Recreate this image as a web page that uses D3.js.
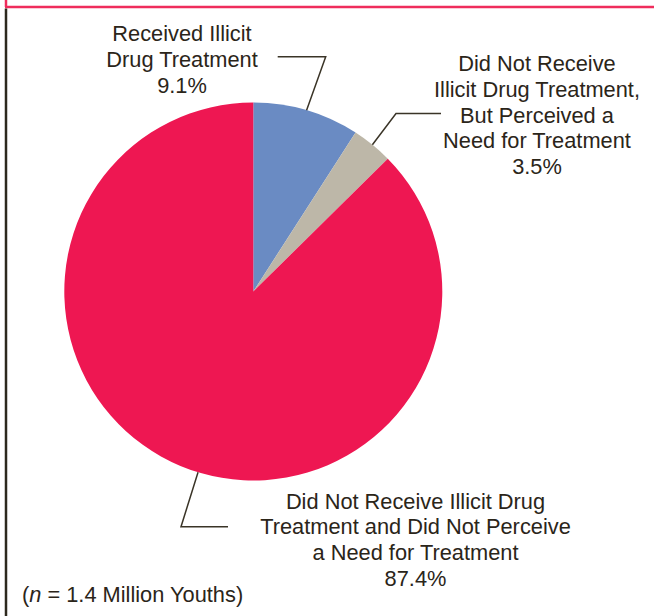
<!DOCTYPE html>
<html>
<head>
<meta charset="utf-8">
<script src="https://cdn.jsdelivr.net/npm/d3@7"></script>
<style>
  html, body { margin: 0; padding: 0; background: #fff; }
  svg text { font-family: "Liberation Sans", Arial, sans-serif; fill: #2b2519; }
</style>
</head>
<body>
<svg id="pie-chart"></svg>
<script>
// Chart data
const categories = [
    'Received Illicit Drug Treatment',
    'Did Not Receive Illicit Drug Treatment, But Perceived a Need for Treatment',
    'Did Not Receive Illicit Drug Treatment and Did Not Perceive a Need for Treatment'
];
const values = [9.1, 3.5, 87.4];
const labelLines = [
    ['Received Illicit', 'Drug Treatment', '9.1%'],
    ['Did Not Receive', 'Illicit Drug Treatment,', 'But Perceived a', 'Need for Treatment', '3.5%'],
    ['Did Not Receive Illicit Drug', 'Treatment and Did Not Perceive', 'a Need for Treatment', '87.4%']
];
const footnote = '1.4 Million Youths';

const CONFIG = {
    width: 654,
    height: 616,
    cx: 253.3,
    cy: 291.5,
    radius: 189,
    colors: ['#6a8bc3', '#bdb7a8', '#ee1752'],
    fontSize: 21.8,
    lineHeight: 25.8,
    lineColor: '#3a3427',
    // label block: centre x, first baseline, elbow of the leader line
    labels: [
        { x: 182, y: 41, elbowX: 325.7, elbowY: 56.7, endX: 277.7, angle: null },
        { x: 537, y: 71, elbowX: 396, elbowY: 113.5, endX: 441, angle: null },
        { x: 415.5, y: 508.5, elbowX: 181, elbowY: 526.7, endX: 228, angle: 197 }
    ]
};

const svg = d3.select('#pie-chart')
    .attr('width', CONFIG.width)
    .attr('height', CONFIG.height);

// Frame: pink rule on top, dark rule on the left
svg.append('line')
    .attr('x1', 5).attr('x2', CONFIG.width)
    .attr('y1', 7).attr('y2', 7)
    .style('stroke', '#ef2d5c').style('stroke-width', 2.5);
svg.append('line')
    .attr('x1', 6).attr('x2', 6)
    .attr('y1', 0).attr('y2', 7)
    .style('stroke', '#ef2d5c').style('stroke-width', 2.5);
svg.append('line')
    .attr('x1', 6).attr('x2', 6)
    .attr('y1', 8.5).attr('y2', CONFIG.height)
    .style('stroke', '#2d291e').style('stroke-width', 2.5);

const pie = d3.pie().sort(null).startAngle(0).endAngle(2 * Math.PI);
const arcs = pie(values);
const arc = d3.arc().innerRadius(0).outerRadius(CONFIG.radius);

const g = svg.append('g')
    .attr('transform', `translate(${CONFIG.cx},${CONFIG.cy})`);

g.selectAll('path')
    .data(arcs)
    .enter()
    .append('path')
    .attr('d', arc)
    .style('fill', (d, i) => CONFIG.colors[i]);

// Leader lines from the slice edge to the label
const leader = d3.line();
arcs.forEach((d, i) => {
    const lab = CONFIG.labels[i];
    const a = lab.angle != null ? lab.angle * Math.PI / 180 : (d.startAngle + d.endAngle) / 2;
    const px = CONFIG.cx + Math.sin(a) * CONFIG.radius;
    const py = CONFIG.cy - Math.cos(a) * CONFIG.radius;
    svg.append('path')
        .attr('d', leader([[px, py], [lab.elbowX, lab.elbowY], [lab.endX, lab.elbowY]]))
        .style('fill', 'none')
        .style('stroke', CONFIG.lineColor)
        .style('stroke-width', 1.5);
});

// Slice labels
labelLines.forEach((lines, i) => {
    const lab = CONFIG.labels[i];
    const t = svg.append('text')
        .attr('text-anchor', 'middle')
        .style('font-size', CONFIG.fontSize + 'px');
    lines.forEach((line, j) => {
        t.append('tspan')
            .attr('x', lab.x)
            .attr('y', lab.y + j * CONFIG.lineHeight)
            .text(line);
    });
});

// Sample size note
const note = svg.append('text')
    .attr('x', 22)
    .attr('y', 602)
    .style('font-size', CONFIG.fontSize + 'px');
note.append('tspan').text('(');
note.append('tspan').style('font-style', 'italic').text('n');
note.append('tspan').text(' = ' + footnote + ')');
</script>
</body>
</html>
